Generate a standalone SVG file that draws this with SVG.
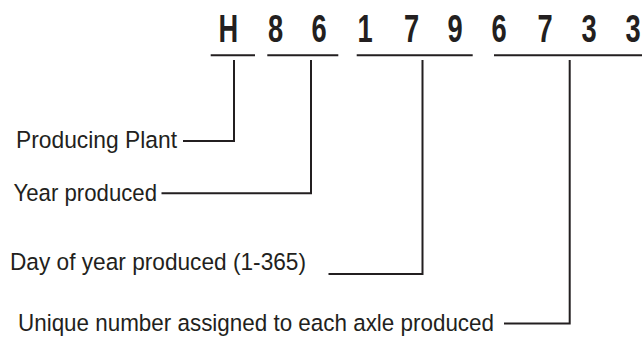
<svg xmlns="http://www.w3.org/2000/svg" width="642" height="337" viewBox="0 0 642 337">
<style>
.d{font-family:"Liberation Sans",Arial,sans-serif;font-weight:bold;font-size:39px;fill:#231f20;text-anchor:middle}
.l{font-family:"Liberation Sans",Arial,sans-serif;font-size:24.5px;fill:#231f20}
.c{fill:none;stroke:#231f20;stroke-width:2}
</style>
<rect width="642" height="337" fill="#fff"/>
<g id="code">
<text class="d" transform="translate(228.3,41.5) scale(0.7,1)">H</text>
<text class="d" transform="translate(275.5,41.5) scale(0.7,1)">8</text>
<text class="d" transform="translate(319,41.5) scale(0.7,1)">6</text>
<text class="d" transform="translate(365,41.5) scale(0.7,1)">1</text>
<text class="d" transform="translate(411.5,41.5) scale(0.7,1)">7</text>
<text class="d" transform="translate(455,41.5) scale(0.7,1)">9</text>
<text class="d" transform="translate(499,41.5) scale(0.7,1)">6</text>
<text class="d" transform="translate(545,41.5) scale(0.7,1)">7</text>
<text class="d" transform="translate(589,41.5) scale(0.7,1)">3</text>
<text class="d" transform="translate(633,41.5) scale(0.7,1)">3</text>
</g>
<g id="plant"><text class="l" x="16" y="147.5" textLength="161" lengthAdjust="spacingAndGlyphs">Producing Plant</text></g>
<g id="year"><text class="l" x="13.5" y="200.5" textLength="143.5" lengthAdjust="spacingAndGlyphs">Year produced</text></g>
<g id="day"><text class="l" x="10" y="269.5" textLength="296" lengthAdjust="spacingAndGlyphs">Day of year produced (1-365)</text></g>
<g id="unique"><text class="l" x="18" y="331" textLength="476" lengthAdjust="spacingAndGlyphs">Unique number assigned to each axle produced</text></g>
<g id="connectors">
<path class="c" d="M210.7 55.3H255M267.3 55.3H338.3M356.7 55.3H472.7M494 55.3H642"/>
<path class="c" d="M234 60V141H183"/>
<path class="c" d="M311 60V193.3H161.5"/>
<path class="c" d="M422.5 60V274H328.5"/>
<path class="c" d="M569.7 60V323.5H504"/>
</g>
</svg>
